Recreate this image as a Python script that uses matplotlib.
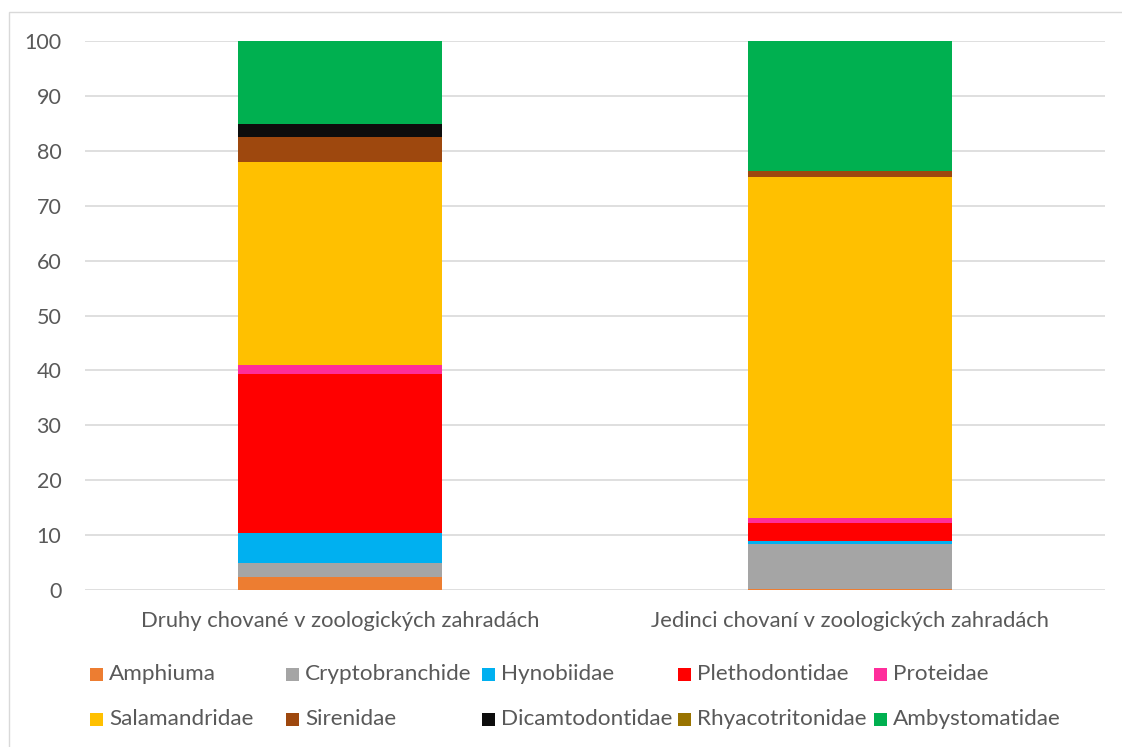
import numpy as np
import matplotlib
matplotlib.use("Agg")
from matplotlib import pyplot as plt
from matplotlib.patches import Rectangle

plt.rcParams['font.family'] = ['Lato', 'DejaVu Sans']

categories = ["Druhy chované v zoologických zahradách",
              "Jedinci chovaní v zoologických zahradách"]
families = ["Amphiuma", "Cryptobranchide", "Hynobiidae", "Plethodontidae", "Proteidae",
            "Salamandridae", "Sirenidae", "Dicamtodontidae", "Rhyacotritonidae", "Ambystomatidae"]
# percent shares
druhy = [2.4, 2.5, 5.4, 29.0, 1.6, 37.0, 4.7, 2.2, 0.0, 15.2]
jedinci = [0.15, 8.2, 0.55, 3.3, 1.0, 62.0, 1.1, 0.0, 0.0, 23.7]
colors = ["#ED7D31", "#A5A5A5", "#00B0F0", "#FF0000", "#FF2D9B",
          "#FFC000", "#9E480E", "#0D0D0D", "#997300", "#00B050"]

text_col = "#595959"
grid_col = "#D9D9D9"

fig = plt.figure(figsize=(11.22, 7.47), dpi=100)
ax = fig.add_axes([85 / 1122, 1 - 590 / 747, 1020 / 1122, 549 / 747])

x = np.arange(len(categories))
bottom = np.zeros(len(categories))
for name, a, b, c in zip(families, druhy, jedinci, colors):
    vals = np.array([a, b])
    ax.bar(x, vals, 0.4, bottom=bottom, color=c, label=name, zorder=3)
    bottom += vals

ax.set_xlim(-0.5, 1.5)
ax.set_ylim(0, 100)
ax.set_yticks(np.arange(0, 101, 10))
ax.set_xticks(x)
ax.set_xticklabels(categories)
ax.yaxis.grid(True, color=grid_col, linewidth=1.2, zorder=0)
for s in ax.spines.values():
    s.set_visible(False)
ax.tick_params(axis='y', length=0, pad=17, labelsize=15.5, labelcolor=text_col)
ax.tick_params(axis='x', length=0, pad=15, labelsize=15.8, labelcolor=text_col)

# legend drawn in equal-width columns like the original
for i, (name, c) in enumerate(zip(families, colors)):
    col, row = i % 5, i // 5
    x0 = 90 + col * 196
    yc = 674 + row * 45
    fig.add_artist(Rectangle((x0 / 1122, 1 - (yc + 7) / 747), 13 / 1122, 13 / 747,
                             transform=fig.transFigure, color=c, lw=0))
    fig.text((x0 + 19) / 1122, 1 - yc / 747, name, va='center', ha='left',
             fontsize=16.2, color=text_col)

# chart border
fig.add_artist(Rectangle((8.5 / 1122, -0.1), 1.2, 1.1 - 12 / 747,
                         transform=fig.transFigure, fill=False, edgecolor=grid_col, lw=1))

fig.savefig("out.png", dpi=100)
